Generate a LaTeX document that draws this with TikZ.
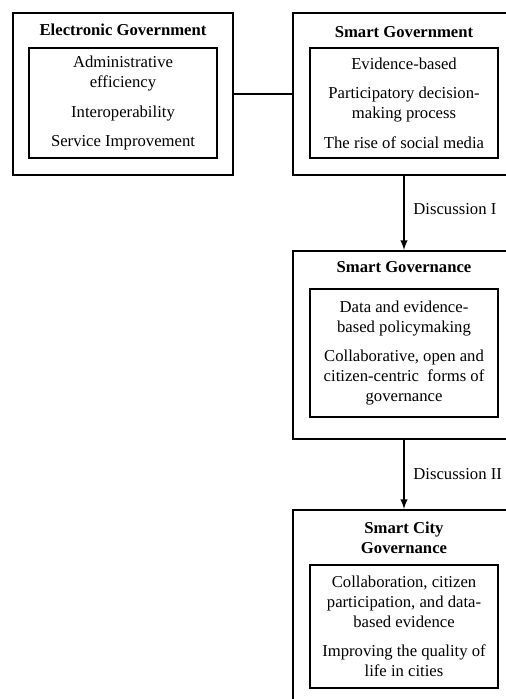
\documentclass[tikz,border=0pt]{standalone}
\usepackage{fontspec}
\setmainfont{Liberation Serif}
\begin{document}
\begin{tikzpicture}[x=0.75pt,y=-0.75pt,
	font=\fontsize{12.5}{15}\selectfont,
	outerbox/.style={draw, rectangle, line width=1.5pt, inner sep=0pt},
	innerbox/.style={draw, rectangle, line width=1.5pt, inner sep=0pt, align=center},
	heading/.style={font=\fontsize{12.5}{15}\selectfont\bfseries, align=center},
	link/.style={line width=1.5pt}]
	
	\clip (0,0) rectangle (506,699);
	
	%Blocks
	\node (EGov) at (123,94) [outerbox, minimum width=165pt, minimum height=121.5pt]{};
	\node (EGovTitle) at (123,30) [heading]{Electronic Government};
	\node (EGovItems) at (123,103) [innerbox, minimum width=141pt, minimum 
	height=82.5pt]{Administrative\\efficiency\\[7pt]Interoperability\\[7pt]Service 
	Improvement};
	
	\node (SGov) at (404,94) [outerbox, minimum width=166.5pt, minimum height=121.5pt]{};
	\node (SGovTitle) at (404,32) [heading]{Smart Government};
	\node (SGovItems) at (404,103) [innerbox, minimum width=141pt, minimum 
	height=82.5pt]{Evidence-based\\[7pt]Participatory decision-\\making 
	process\\[7pt]The rise of social media};
	
	\node (SGnc) at (404,345) [outerbox, minimum width=166.5pt, minimum height=141pt]{};
	\node (SGncTitle) at (404,267) [heading]{Smart Governance};
	\node (SGncItems) at (404,353) [innerbox, minimum width=141pt, minimum 
	height=96pt]{Data and evidence-\\based policymaking\\[7pt]Collaborative, open 
	and\\citizen-centric\ \ forms of\\governance};
	
	\node (SCGnc) at (404,607.5) [outerbox, minimum width=166.5pt, minimum 
	height=146.25pt]{};
	\node (SCGncTitle) at (404,538) [heading]{Smart City\\Governance};
	\node (SCGncItems) at (404,626.5) [innerbox, minimum width=141pt, minimum 
	height=92.25pt]{Collaboration, citizen\\participation, and data-\\based 
	evidence\\[7pt]Improving the quality of\\life in cities};
	
	%Links
	\draw[link] (EGov) -- (SGov);
	\draw[-latex, link] (SGov) -- node[right, pos=0.45, xshift=3pt]{Discussion I} (SGnc);
	\draw[-latex, link] (SGnc) -- node[right, pos=0.5, xshift=3pt]{Discussion II} (SCGnc);
	
\end{tikzpicture}
\end{document}
